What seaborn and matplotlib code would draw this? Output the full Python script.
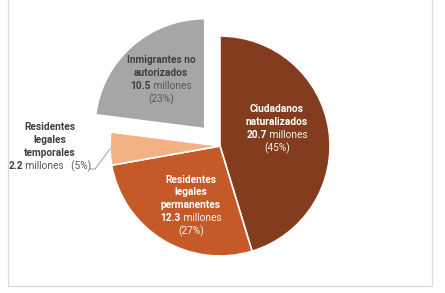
import matplotlib
matplotlib.use("Agg")
import matplotlib.pyplot as plt
import seaborn as sns
from matplotlib.offsetbox import TextArea, HPacker, VPacker, AnnotationBbox
from matplotlib.patches import Rectangle

# ---- data ----
categories = ["Ciudadanos naturalizados", "Residentes legales permanentes",
              "Residentes legales temporales", "Inmigrantes no autorizados"]
name_lines = [["Ciudadanos", "naturalizados"],
              ["Residentes", "legales", "permanentes"],
              ["Residentes", "legales", "temporales"],
              ["Inmigrantes no", "autorizados"]]
values = [20.7, 12.3, 2.2, 10.5]          # millones
value_labels = ["20.7", "12.3", "2.2", "10.5"]
percent_labels = ["(45%)", "(27%)", "(5%)", "(23%)"]
colors = ["#843C1E", "#C55A28", "#F4B183", "#A6A6A6"]

sns.set_theme(style="white")
plt.rcParams['font.family'] = ['Roboto', 'DejaVu Sans']

W, H = 445, 293
fig = plt.figure(figsize=(W / 100, H / 100), dpi=100)
ax = fig.add_axes([0, 0, 1, 1])

cx, cy, R = 220, H - 146, 110
wedges, _ = ax.pie(values, colors=colors, startangle=90, counterclock=False,
                   explode=[0, 0, 0, 0.21 * R], center=(cx, cy), radius=R,
                   wedgeprops=dict(edgecolor='white', linewidth=1.2))

fs = 7.25
def label_box(lines, val, pct, color, color2, one_line_tail=False):
    rows = [TextArea(t, textprops=dict(color=color, fontsize=fs, fontweight='bold'))
            for t in lines]
    if one_line_tail:
        rows.append(HPacker(children=[
            TextArea(val, textprops=dict(color=color, fontsize=fs, fontweight='bold')),
            TextArea(" millones   " + pct, textprops=dict(color=color2, fontsize=fs))],
            align='baseline', pad=0, sep=0))
    else:
        rows.append(HPacker(children=[
            TextArea(val, textprops=dict(color=color, fontsize=fs, fontweight='bold')),
            TextArea(" millones", textprops=dict(color=color2, fontsize=fs))],
            align='baseline', pad=0, sep=0))
        rows.append(TextArea(pct, textprops=dict(color=color2, fontsize=fs)))
    return VPacker(children=rows, align='center', pad=0, sep=2.0)

positions = [(277, 129), (191, 206), (50, 147), (161, 80)]
txt_colors = [("white", "#F5F0EC"), ("white", "#F8EFE8"),
              ("#404040", "#595959"), ("#404040", "#595959")]
for i in range(4):
    box = label_box(name_lines[i], value_labels[i], percent_labels[i],
                    txt_colors[i][0], txt_colors[i][1], one_line_tail=(i == 2))
    px, py = positions[i]
    ab = AnnotationBbox(box, (px, H - py), xycoords='data', frameon=False,
                        box_alignment=(0.5, 0.5), pad=0)
    ax.add_artist(ab)

# leader line for small slice
ax.plot([90, 95, 110], [H - 169, H - 169, H - 149], color="#A6A6A6", lw=0.8)

# chart frame
ax.add_patch(Rectangle((8, H - 286), 424, 320, fill=False,
                       edgecolor="#D9D9D9", lw=0.9, clip_on=False))

ax.set_xlim(0, W)
ax.set_ylim(0, H)
ax.set_aspect('equal', adjustable='box')
ax.axis('off')
fig.savefig("out.png", dpi=100, facecolor="white")
